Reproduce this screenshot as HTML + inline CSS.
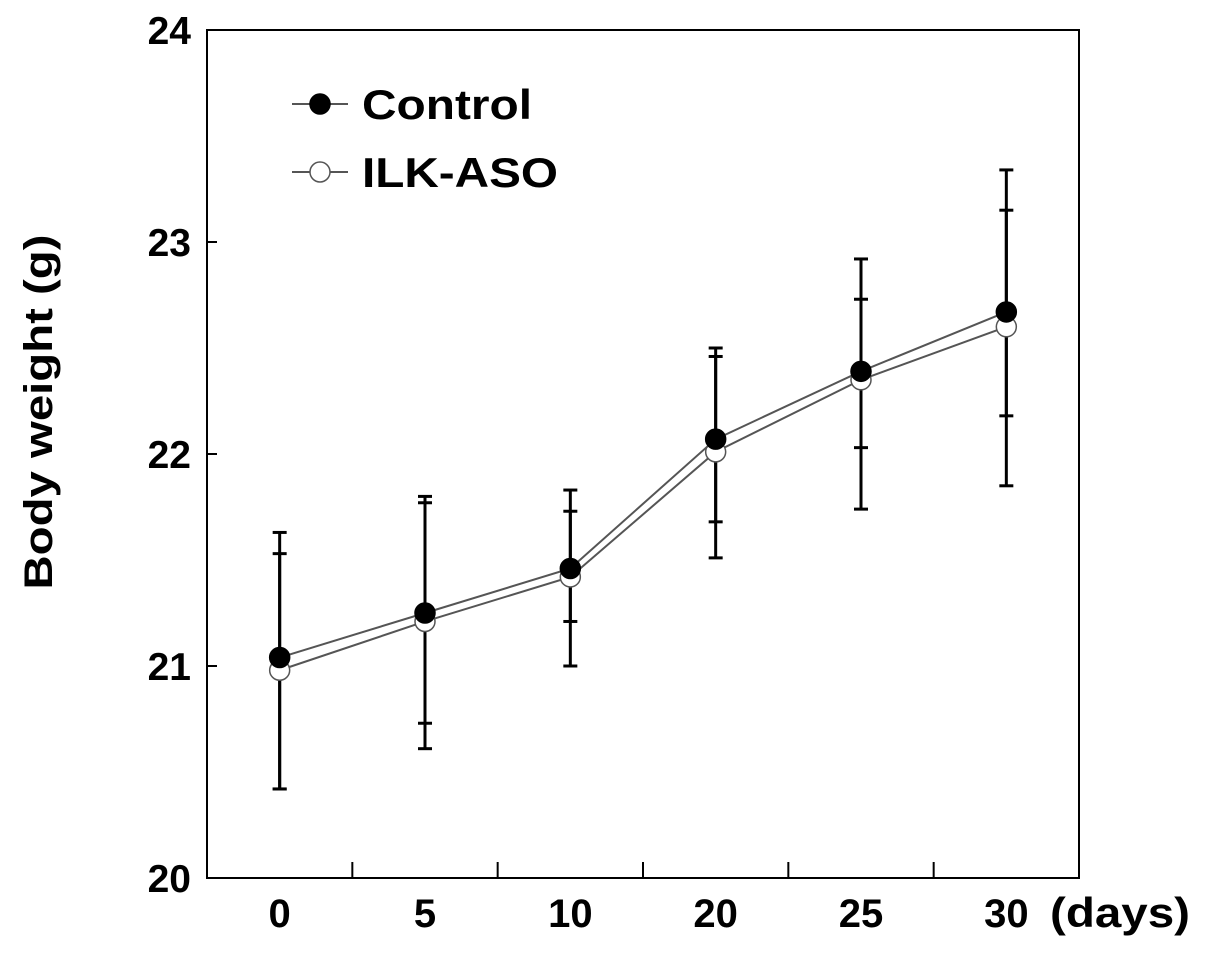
<!DOCTYPE html>
<html><head><meta charset="utf-8"><style>
body{margin:0;background:#fff}
svg text{font-family:"Liberation Sans",Arial,sans-serif;font-weight:bold;fill:#000}
</style></head><body>
<svg id="chart" width="1205" height="950" xmlns="http://www.w3.org/2000/svg"></svg>
<script>
const categories=["0","5","10","20","25","30"];
const yTicks=[20,21,22,23,24];
const controlValues=[21.04,21.25,21.46,22.07,22.39,22.67];
const ilkValues=[20.98,21.21,21.42,22.01,22.35,22.60];
const controlHigh=[21.63,21.80,21.83,22.50,22.92,23.34];
const controlLow=[20.42,20.61,21.00,21.51,21.74,21.85];
const ilkHigh=[21.53,21.77,21.73,22.46,22.73,23.15];
const ilkLow=[20.42,20.73,21.21,21.68,22.03,22.18];
const L=207,T=30,R=1079,B=878,ymin=20,ymax=24;
const NS="http://www.w3.org/2000/svg";
const svg=document.getElementById('chart');
const step=(R-L)/categories.length;
function xs(i){return L+step*(i+0.5);}
function ys(v){return B-(v-ymin)/(ymax-ymin)*(B-T);}
function el(tag,attrs,parent){const e=document.createElementNS(NS,tag);for(const k in attrs)e.setAttribute(k,attrs[k]);(parent||svg).appendChild(e);return e;}
const frame=el('rect',{x:L,y:T,width:R-L,height:B-T,fill:'none',stroke:'#000','stroke-width':2});


yTicks.forEach(v=>{
 const t=el('text',{x:191,y:ys(v)+14,'text-anchor':'end','font-size':39});t.textContent=v;
 
 
 const l=el('line',{x1:L,x2:L+10,y1:ys(v),y2:ys(v),stroke:'#000','stroke-width':2});
 
 
});
categories.forEach((c,i)=>{
 const t=el('text',{x:xs(i),y:927,'text-anchor':'middle','font-size':40});t.textContent=c;
 
 
 if(i>0){const l=el('line',{x1:L+step*i,x2:L+step*i,y1:B,y2:B-16,stroke:'#000','stroke-width':2});
 
 }
});
const d=el('text',{x:1050,y:927,'font-size':42,textLength:140,lengthAdjust:'spacingAndGlyphs'});d.textContent='(days)';


const yl=el('text',{x:0,y:0,'text-anchor':'middle','font-size':40,textLength:355,lengthAdjust:'spacingAndGlyphs',transform:'translate(52,412) rotate(-90)'});yl.textContent='Body weight (g)';


function bars(hi,lo,name){hi.forEach((h,i)=>{
 const g=el('g',{stroke:'#000','stroke-width':3});
 
 
 el('line',{x1:xs(i),x2:xs(i),y1:ys(h),y2:ys(lo[i])},g);
 el('line',{x1:xs(i)-7,x2:xs(i)+7,y1:ys(h),y2:ys(h)},g);
 el('line',{x1:xs(i)-7,x2:xs(i)+7,y1:ys(lo[i]),y2:ys(lo[i])},g);
});}
bars(controlHigh,controlLow,'control-error-bar');
bars(ilkHigh,ilkLow,'ilk-error-bar');
function series(vals,fill,name){
 const p=el('polyline',{points:vals.map((v,i)=>xs(i)+','+ys(v)).join(' '),fill:'none',stroke:'#555','stroke-width':2});
 
 
 vals.forEach((v,i)=>{const c=el('circle',{cx:xs(i),cy:ys(v),r:10,fill:fill,stroke:fill==='#000'?'#000':'#555','stroke-width':1.5});
 
 });
}
series(ilkValues,'#fff','ilk-aso');
series(controlValues,'#000','control');
function legend(y,fill,label,len,name){
 const g=el('g',{});
 
 
 el('line',{x1:292,x2:348,y1:y,y2:y,stroke:'#555','stroke-width':2},g);
 el('circle',{cx:320,cy:y,r:10,fill:fill,stroke:fill==='#000'?'#000':'#555','stroke-width':1.5},g);
 const t=el('text',{x:362,y:y+15,'font-size':42,textLength:len,lengthAdjust:'spacingAndGlyphs'},g);t.textContent=label;
}
legend(104,'#000','Control',170,'legend-control');
legend(172,'#fff','ILK-ASO',196,'legend-ilk-aso');
</script>
</body></html>
